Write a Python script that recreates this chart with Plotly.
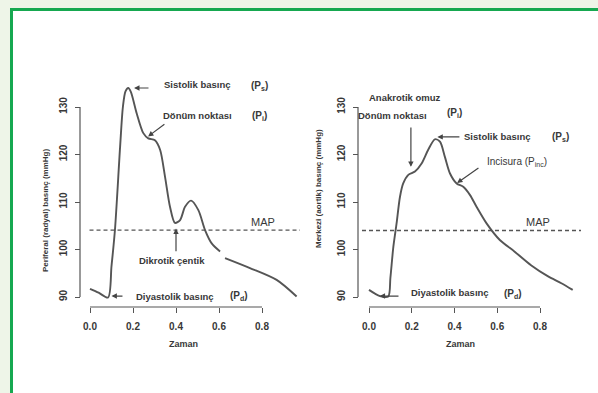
import plotly.graph_objects as go

# ---------------- data ----------------
left_time = [0.0, 0.04, 0.084, 0.1, 0.116, 0.14, 0.153, 0.165, 0.178, 0.19, 0.217, 0.248,
             0.271, 0.302, 0.326, 0.349, 0.372, 0.395, 0.419, 0.442, 0.47, 0.504, 0.535,
             0.566, 0.605, None, 0.628, 0.744, 0.868, 0.961]
left_pressure = [91.7, 90.9, 89.9, 96.5, 104.1, 121.6, 130.0, 133.3, 134.0, 133.2, 128.7, 124.5,
                 123.4, 123.0, 121.0, 115.3, 109.0, 105.6, 106.2, 109.0, 110.3, 108.3, 104.1,
                 101.3, 99.6, None, 98.2, 96.1, 93.6, 90.1]

right_time = [0.0, 0.051, 0.09, 0.1, 0.114, 0.129, 0.145, 0.16, 0.184, 0.215, 0.246, 0.277,
              0.308, 0.332, 0.355, 0.379, 0.41, 0.441, 0.472, 0.503, 0.55, 0.612, 0.68,
              0.758, 0.836, 0.9, 0.953]
right_pressure = [91.5, 90.2, 90.1, 94.0, 100.6, 105.5, 111.1, 113.9, 115.7, 116.4, 118.1, 121.0,
                  123.2, 122.7, 119.5, 116.0, 113.9, 113.2, 111.5, 109.0, 105.5, 102.0, 99.6,
                  96.7, 94.4, 92.9, 91.5]

left_map = 104.1
right_map = 104.0

x_ticks = [0.0, 0.2, 0.4, 0.6, 0.8]
x_tick_labels = ["0.0", "0.2", "0.4", "0.6", "0.8"]
y_ticks = [90, 100, 110, 120, 130]
y_tick_labels = ["90", "100", "110", "120", "130"]

left_ylabel = "Periferal (radyal) basınç (mmHg)"
right_ylabel = "Merkezi (aortik) basınç (mmHg)"
xlabel = "Zaman"

# ---------------- layout helpers ----------------
W, H = 598, 393
def px(x):
    return x / W
def py(y):
    return 1 - y / H

TXT = "#383838"
LINE = "#555555"
FONT = "Liberation Sans"
BG = "#eef5e8"
GREEN = "#16a850"

fig = go.Figure()
fig.add_trace(go.Scatter(x=left_time, y=left_pressure, mode="lines", xaxis="x", yaxis="y",
                         line=dict(color=LINE, width=1.9, shape="spline", smoothing=0.8),
                         showlegend=False, hoverinfo="skip"))
fig.add_trace(go.Scatter(x=right_time, y=right_pressure, mode="lines", xaxis="x2", yaxis="y2",
                         line=dict(color=LINE, width=1.9, shape="spline", smoothing=0.8),
                         showlegend=False, hoverinfo="skip"))

x_axis_pos = py(307)
left_y_pos = px(80)
right_y_pos = px(358)

ydom = [py(302), py(82)]
yrange = [90 - 5 / 4.75, 90 + (297 - 82) / 4.75]

common_x = dict(anchor="free", position=x_axis_pos, tickvals=x_ticks, ticktext=x_tick_labels,
                ticks="outside", ticklen=5, tickwidth=1.2, tickcolor=LINE, showline=False,
                showgrid=False, zeroline=False, ticklabelstandoff=5,
                tickfont=dict(family=FONT, size=10, color=TXT, weight="bold"))
common_y = dict(anchor="free", domain=ydom, range=yrange, tickvals=y_ticks, ticktext=y_tick_labels,
                ticks="outside", ticklen=5, tickwidth=1.2, tickcolor=LINE, showline=False,
                showgrid=False, zeroline=False, tickangle=-90, ticklabelstandoff=4,
                tickfont=dict(family=FONT, size=10, color=TXT, weight="bold"))

fig.update_layout(
    width=W, height=H,
    margin=dict(l=0, r=0, t=0, b=0),
    paper_bgcolor=BG,
    plot_bgcolor="rgba(0,0,0,0)",
    xaxis=dict(domain=[px(83), px(300)], range=[(83 - 90) / 215, (300 - 90) / 215], **common_x),
    xaxis2=dict(domain=[px(362), px(581)], range=[(362 - 369) / 213.75, (581 - 369) / 213.75], **common_x),
    yaxis=dict(position=left_y_pos, **common_y),
    yaxis2=dict(position=right_y_pos, **common_y),
)

shapes = []
# white panel with green border (left and top edges visible)
shapes.append(dict(type="rect", xref="paper", yref="paper", x0=px(10), x1=1, y0=0, y1=py(8),
                   line=dict(width=0), fillcolor="white", layer="below"))
shapes.append(dict(type="line", xref="paper", yref="paper", x0=px(10), x1=1, y0=py(9.5), y1=py(9.5),
                   line=dict(color=GREEN, width=3), layer="below"))
shapes.append(dict(type="line", xref="paper", yref="paper", x0=px(11.5), x1=px(11.5), y0=0, y1=py(8),
                   line=dict(color=GREEN, width=3), layer="below"))
# R-style axis lines (span tick range only)
for xa, ya, ypos in (("x", "y", left_y_pos), ("x2", "y2", right_y_pos)):
    shapes.append(dict(type="line", xref="paper", yref=ya, x0=ypos, x1=ypos,
                       y0=y_ticks[0], y1=y_ticks[-1], line=dict(color=LINE, width=1.2)))
    shapes.append(dict(type="line", xref=xa, yref="paper", x0=x_ticks[0], x1=x_ticks[-1],
                       y0=x_axis_pos, y1=x_axis_pos, line=dict(color=LINE, width=1.2)))
# MAP dashed lines
shapes.append(dict(type="line", xref="x domain", yref="y", x0=0.03, x1=1, y0=left_map, y1=left_map,
                   line=dict(color=LINE, width=1.3, dash="4px,3px")))
shapes.append(dict(type="line", xref="x2 domain", yref="y2", x0=0.0, x1=1, y0=right_map, y1=right_map,
                   line=dict(color=LINE, width=1.3, dash="4px,3px")))
fig.update_layout(shapes=shapes)

ann = []
def label(x, y, text, xref="x", yref="y", size=9.5, bold=True, xanchor="center"):
    ann.append(dict(x=x, y=y, xref=xref, yref=yref, text=text, showarrow=False, xanchor=xanchor,
                    yanchor="middle",
                    font=dict(family=FONT, size=size, color=TXT, weight="bold" if bold else "normal")))

def arrow(hx, hy, tx, ty, xref="x", yref="y"):
    ann.append(dict(x=hx, y=hy, ax=tx, ay=ty, xref=xref, yref=yref, axref=xref, ayref=yref,
                    text="", showarrow=True, arrowhead=2, arrowsize=0.9, arrowwidth=1.2,
                    arrowcolor="#444444", standoff=0, startstandoff=0))

# ---- left panel ----
label(0.502, 134.8, "Sistolik basınç")
label(0.79, 134.5, "(P<sub>s</sub>)", size=10)
arrow(0.205, 134.0, 0.279, 134.0)
label(0.502, 128.3, "Dönüm noktası")
label(0.79, 128.1, "(P<sub>i</sub>)", size=10)
arrow(0.27, 123.8, 0.353, 126.6)
label(0.805, 105.8, "MAP", size=11, bold=False)
label(0.381, 97.6, "Dikrotik çentik")
arrow(0.4, 104.4, 0.4, 99.3)
label(0.395, 90.2, "Diyastolik basınç")
label(0.693, 90.3, "(P<sub>d</sub>)", size=10)
arrow(0.1, 90.2, 0.158, 90.2)

# ---- right panel ----
label(0.168, 132.1, "Anakrotik omuz", xref="x2", yref="y2")
label(0.112, 128.3, "Dönüm noktası", xref="x2", yref="y2")
label(0.402, 128.7, "(P<sub>i</sub>)", xref="x2", yref="y2", size=10)
arrow(0.196, 117.4, 0.196, 126.0, xref="x2", yref="y2")
label(0.599, 123.7, "Sistolik basınç", xref="x2", yref="y2")
label(0.898, 123.7, "(P<sub>s</sub>)", xref="x2", yref="y2", size=10)
arrow(0.32, 123.7, 0.43, 123.7, xref="x2", yref="y2")
label(0.692, 118.4, "Incisura (P<sub>inc</sub>)", xref="x2", yref="y2", size=10, bold=False)
arrow(0.412, 114.0, 0.519, 117.4, xref="x2", yref="y2")
label(0.79, 105.8, "MAP", xref="x2", yref="y2", size=11, bold=False)
label(0.379, 91.0, "Diyastolik basınç", xref="x2", yref="y2")
label(0.674, 90.6, "(P<sub>d</sub>)", xref="x2", yref="y2", size=10)
arrow(0.05, 90.2, 0.145, 90.2, xref="x2", yref="y2")

# axis titles
def paper_text(x, y, text, size, angle=0):
    ann.append(dict(x=px(x), y=py(y), xref="paper", yref="paper", text=text, textangle=angle,
                    xanchor="center", yanchor="middle", showarrow=False,
                    font=dict(family=FONT, size=size, color=TXT, weight="bold")))

paper_text(45, 211, left_ylabel, 8, -90)
paper_text(318, 189, right_ylabel, 8, -90)
paper_text(183, 344, xlabel, 9)
paper_text(460, 344, xlabel, 9)

fig.update_layout(annotations=ann)
fig.write_html("out.html",
               config={"displayModeBar": False},
               post_script="document.documentElement.style.margin='0';"
                           "document.body.style.margin='0';"
                           "document.body.style.background='" + BG + "';")
